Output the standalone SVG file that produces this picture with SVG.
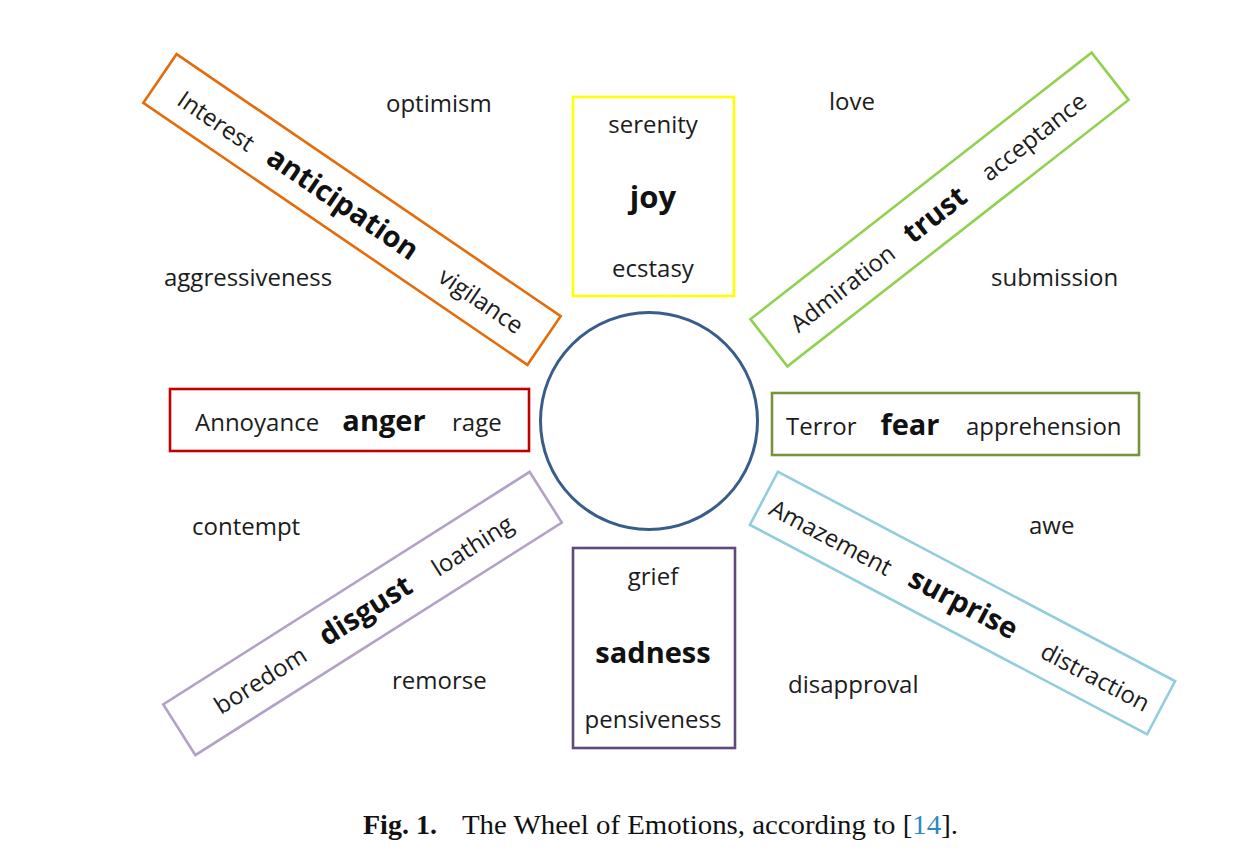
<svg xmlns="http://www.w3.org/2000/svg" width="1242" height="852" viewBox="0 0 1242 852">
<style>
  .box { fill: none; stroke-width: 2.6; }
  .t { font-family: "Open Sans", "Liberation Sans", sans-serif; font-size: 24px; fill: #1c1c1c; text-anchor: middle; }
  .b { font-family: "Open Sans", "Liberation Sans", sans-serif; font-size: 29px; font-weight: bold; fill: #111; text-anchor: middle; }
  .ol { font-family: "Open Sans", "Liberation Sans", sans-serif; font-size: 24px; fill: #1c1c1c; text-anchor: start; }
  .cap { font-family: "Liberation Serif", "DejaVu Serif", serif; font-size: 28px; fill: #111; }
</style>
<rect width="1242" height="852" fill="#ffffff"/>

<g id="connectors"></g>

<g id="center">
  <circle cx="649" cy="421" r="108.5" fill="none" stroke="#385D8A" stroke-width="3"/>
</g>

<g id="joy">
  <rect class="box" x="573" y="97" width="161" height="199" stroke="#FFFF00" stroke-width="3.4"/>
  <text class="t" x="653" y="133">serenity</text>
  <text class="b" x="653" y="208" style="font-size:31px">joy</text>
  <text class="t" x="653" y="277">ecstasy</text>
</g>

<g id="trust" transform="translate(939.5,209.5) rotate(-38)">
  <rect class="box" x="-216.5" y="-30" width="433" height="60" stroke="#92D050"/>
  <text class="t" x="-125" y="11">Admiration</text>
  <text class="b" x="-7" y="11">trust</text>
  <text class="t" x="119" y="9">acceptance</text>
</g>

<g id="fear">
  <rect class="box" x="772" y="393" width="367" height="62" stroke="#77933C"/>
  <text class="ol" x="786" y="435">Terror</text>
  <text class="b" x="910" y="435">fear</text>
  <text class="ol" x="966" y="435">apprehension</text>
</g>

<g id="surprise" transform="translate(962.5,603) rotate(27.8)">
  <rect class="box" x="-224.5" y="-30" width="449" height="60" stroke="#93CDDD"/>
  <text class="t" x="-147" y="12">Amazement</text>
  <text class="b" x="1" y="10">surprise</text>
  <text class="t" x="152" y="12">distraction</text>
</g>

<g id="sadness">
  <rect class="box" x="573" y="548" width="162" height="200" stroke="#604A7B" stroke-width="3"/>
  <text class="t" x="653" y="585">grief</text>
  <text class="b" x="653" y="663">sadness</text>
  <text class="t" x="653" y="728">pensiveness</text>
</g>

<g id="disgust" transform="translate(362.5,613.5) rotate(-32.4)">
  <rect class="box" x="-217" y="-30" width="434" height="60" stroke="#B3A2C7"/>
  <text class="t" x="-122" y="10">boredom</text>
  <text class="b" x="4" y="9">disgust</text>
  <text class="t" x="129" y="10">loathing</text>
</g>

<g id="anger">
  <rect class="box" x="170" y="389" width="359" height="62" stroke="#C00000"/>
  <text class="ol" x="195" y="431">Annoyance</text>
  <text class="b" x="384" y="431">anger</text>
  <text class="ol" x="452" y="431">rage</text>
</g>

<g id="anticipation" transform="translate(352,209.5) rotate(34.3)">
  <rect class="box" x="-232.5" y="-29.5" width="465" height="59" stroke="#E46C0A"/>
  <text class="t" x="-162" y="12">Interest</text>
  <text class="b" x="-11" y="10">anticipation</text>
  <text class="t" x="158" y="11">vigilance</text>
</g>

<g id="dyads">
  <text class="ol" x="386" y="112">optimism</text>
  <text class="ol" x="829" y="110">love</text>
  <text class="ol" x="164" y="286">aggressiveness</text>
  <text class="ol" x="991" y="286">submission</text>
  <text class="ol" x="192" y="535">contempt</text>
  <text class="ol" x="1029" y="534">awe</text>
  <text class="ol" x="392" y="689">remorse</text>
  <text class="ol" x="788" y="693">disapproval</text>
</g>

<g id="caption">
  <text class="cap" x="363" y="834" font-weight="bold">Fig. 1.</text>
  <text class="cap" x="462" y="834" textLength="496" lengthAdjust="spacingAndGlyphs">The Wheel of Emotions, according to [<tspan fill="#2A8AB9">14</tspan>].</text>
</g>
</svg>
